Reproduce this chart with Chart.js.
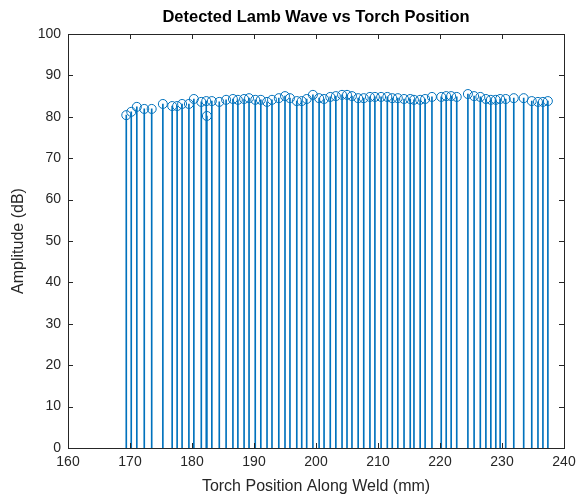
<!DOCTYPE html>
<html lang="en">
<head>
  <meta charset="UTF-8">
  <title>Detected Lamb Wave vs Torch Position</title>
  <script src="https://cdn.jsdelivr.net/npm/chart.js"></script>
  <style>
    body { margin: 0; background: #fff; }
    canvas { display: block; }
  </style>
</head>
<body>
  <canvas id="stemChart" width="579" height="497"></canvas>

  <script>
    // torch position (mm) and detected amplitude (dB)
    const positions = [169.4, 170.2, 171.1, 172.3, 173.5, 175.3, 176.8, 177.6, 178.4, 179.5,
      180.3, 181.5, 182.3, 182.4, 183.2, 184.4, 185.5, 186.6, 187.4, 188.4,
      189.2, 190.2, 191.1, 192.1, 192.9, 194.0, 195.0, 195.8, 196.9, 197.7,
      198.5, 199.5, 200.5, 201.3, 202.3, 203.2, 204.2, 205.0, 205.8, 206.8,
      207.7, 208.7, 209.5, 210.5, 211.5, 212.3, 213.2, 214.2, 215.2, 215.8,
      216.8, 217.6, 218.7, 220.2, 221.0, 221.8, 222.7, 224.5, 225.5, 226.5,
      227.4, 228.2, 229.0, 229.7, 230.6, 231.9, 233.5, 234.8, 235.8, 236.6, 237.4];
    const amplitudes = [80.4, 81.2, 82.4, 81.9, 81.9, 83.1, 82.6, 82.6, 83.1, 83.1,
      84.3, 83.6, 83.8, 80.2, 83.8, 83.6, 84.1, 84.3, 84.1, 84.3,
      84.5, 84.1, 84.1, 83.6, 84.1, 84.5, 85.0, 84.5, 83.8, 83.8,
      84.3, 85.3, 84.5, 84.3, 84.8, 85.0, 85.3, 85.3, 85.0, 84.5,
      84.5, 84.8, 84.8, 84.8, 84.8, 84.5, 84.5, 84.3, 84.3, 84.1,
      84.1, 84.3, 84.8, 84.8, 85.0, 85.0, 84.8, 85.5, 85.0, 84.8,
      84.3, 84.1, 84.1, 84.3, 84.3, 84.5, 84.5, 83.8, 83.6, 83.6, 83.8];

    const points = positions.map((x, i) => ({ x, y: amplitudes[i] }));
    const blue = 'rgb(0,114,189)';
    const axisColor = '#262626';

    // MATLAB style box with inward ticks
    const boxPlugin = {
      id: 'box',
      afterDraw(chart) {
        const { ctx, chartArea: a, scales } = chart;
        ctx.save();
        ctx.strokeStyle = axisColor;
        ctx.lineWidth = 1;
        ctx.strokeRect(a.left + 0.5, a.top + 0.5, a.right - a.left, a.bottom - a.top);
        ctx.beginPath();
        scales.x.ticks.forEach(t => {
          const px = Math.round(scales.x.getPixelForValue(t.value)) + 0.5;
          ctx.moveTo(px, a.bottom); ctx.lineTo(px, a.bottom - 5);
          ctx.moveTo(px, a.top); ctx.lineTo(px, a.top + 5);
        });
        scales.y.ticks.forEach(t => {
          const py = Math.round(scales.y.getPixelForValue(t.value)) + 0.5;
          ctx.moveTo(a.left, py); ctx.lineTo(a.left + 5, py);
          ctx.moveTo(a.right, py); ctx.lineTo(a.right - 5, py);
        });
        ctx.stroke();
        ctx.restore();
      }
    };

    new Chart(document.getElementById('stemChart').getContext('2d'), {
      type: 'scatter',
      data: {
        datasets: [
          {
            type: 'scatter',
            data: points,
            pointStyle: 'circle',
            pointRadius: 4.5,
            borderColor: blue,
            borderWidth: 1,
            backgroundColor: 'rgba(0,0,0,0)',
            order: 1
          },
          {
            type: 'bar',
            data: points,
            barThickness: 1,
            backgroundColor: blue,
            borderWidth: 0,
            order: 2
          }
        ]
      },
      options: {
        responsive: false,
        animation: false,
        layout: { padding: 0 },
        scales: {
          x: {
            type: 'linear',
            min: 160, max: 240,
            offset: false,
            grid: { display: false, drawTicks: false, offset: false },
            border: { display: false },
            ticks: { stepSize: 10, color: axisColor, padding: 6, font: { family: 'Liberation Sans', size: 14 } },
            title: { display: true, text: 'Torch Position Along Weld (mm)', color: axisColor, padding: { top: 2, bottom: 1 }, font: { family: 'Liberation Sans', size: 16 } },
            afterFit: s => { s.height = 49; s.paddingLeft = 0; s.paddingRight = 15; }
          },
          // top axis only carries the plot title, centred over the axes like MATLAB
          xTop: {
            type: 'linear',
            position: 'top',
            min: 160, max: 240,
            offset: false,
            grid: { display: false, drawTicks: false },
            border: { display: false },
            ticks: { display: false },
            title: { display: true, text: 'Detected Lamb Wave vs Torch Position', color: '#000', padding: { top: 8, bottom: 6 }, font: { family: 'Liberation Sans', size: 16.5, weight: 'bold' } },
            afterFit: s => { s.height = 34; }
          },
          y: {
            min: 0, max: 100,
            grid: { display: false, drawTicks: false },
            border: { display: false },
            ticks: { stepSize: 10, color: axisColor, padding: 7, font: { family: 'Liberation Sans', size: 14 } },
            title: { display: true, text: 'Amplitude (dB)', color: axisColor, padding: { top: 9, bottom: 2 }, font: { family: 'Liberation Sans', size: 16 } },
            afterFit: s => { s.width = 68; }
          }
        },
        plugins: {
          legend: { display: false },
          tooltip: { enabled: false },
          title: { display: false }
        }
      },
      plugins: [boxPlugin]
    });
  </script>
</body>
</html>
